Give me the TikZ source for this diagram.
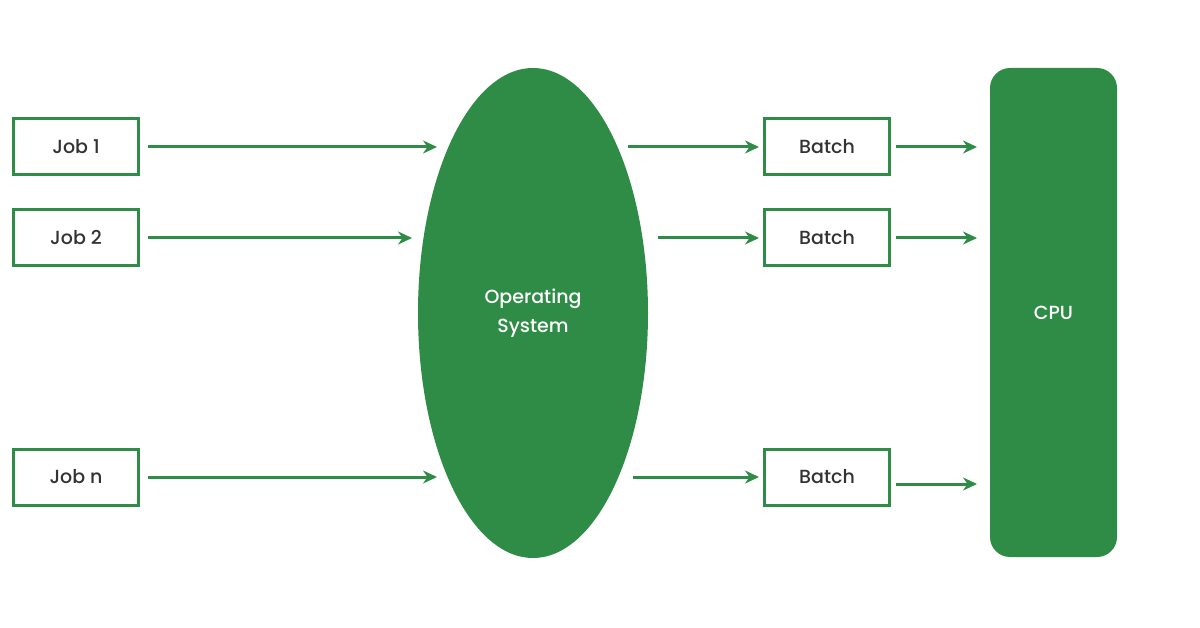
\documentclass[tikz,border=0pt]{standalone}
\usepackage{fontspec}
\setmainfont{Poppins}[BoldFont={Poppins Medium}]
\usetikzlibrary{arrows.meta,shapes.geometric}
\definecolor{gg}{HTML}{2F8C46}
\begin{document}
\begin{tikzpicture}[x=1pt,y=-1pt,
  box/.style={draw=gg,line width=3pt,minimum width=125pt,minimum height=56pt,inner sep=0pt,font=\fontsize{19}{22}\selectfont\bfseries,text=black!80},
  arr/.style={draw=gg,line width=3pt,-{Stealth[length=14pt,width=13pt]}}]
\useasboundingbox (0,0) rectangle (1200,628);
\node[box] (j1) at (76,147) {Job 1};
\node[box] (j2) at (76,238) {Job 2};
\node[box] (jn) at (76,477) {Job n};
\node[ellipse,fill=gg,minimum width=230pt,minimum height=490pt,inner sep=0pt,text=white,align=center,font=\fontsize{19}{29}\selectfont\bfseries] (os) at (533,313) {Operating\\System};
\node[box] (b1) at (827,147) {Batch};
\node[box] (b2) at (827,238) {Batch};
\node[box] (bn) at (827,477) {Batch};
\node[fill=gg,rounded corners=20pt,minimum width=127pt,minimum height=489pt,text=white,font=\fontsize{19}{22}\selectfont\bfseries] (cpu) at (1053.5,312.5) {CPU};
\coordinate (i1) at (437,147); \coordinate (i2) at (412,238); \coordinate (in) at (437,477);
\coordinate (o1) at (628,147); \coordinate (o2) at (658,238); \coordinate (on) at (633,477);
\coordinate (c1) at (977,147); \coordinate (c2) at (977,238); \coordinate (cn) at (977,484);
\draw[arr] (j1.east) ++(8,0) -- (i1);
\draw[arr] (j2.east) ++(8,0) -- (i2);
\draw[arr] (jn.east) ++(8,0) -- (in);
\draw[arr] (o1) -- ([xshift=-4pt]b1.west);
\draw[arr] (o2) -- ([xshift=-4pt]b2.west);
\draw[arr] (on) -- ([xshift=-4pt]bn.west);
\draw[arr] ([xshift=5pt]b1.east) -- (c1);
\draw[arr] ([xshift=5pt]b2.east) -- (c2);
\draw[arr] ([xshift=5pt,yshift=-7pt]bn.east) -- (cn);
\end{tikzpicture}
\end{document}
